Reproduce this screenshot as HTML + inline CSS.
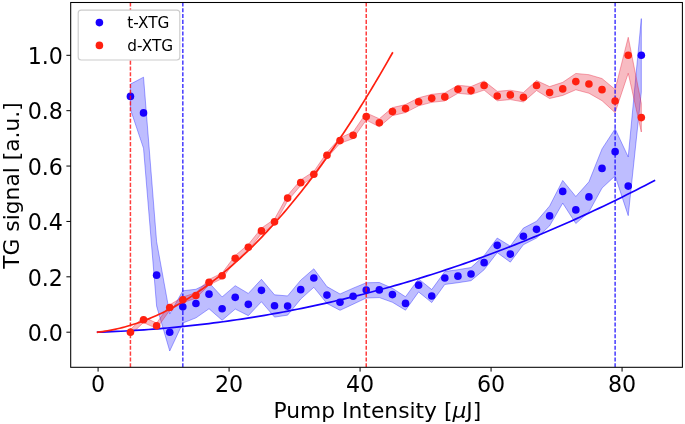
<!DOCTYPE html>
<html lang="en"><head><meta charset="utf-8"><title>TG signal vs Pump Intensity</title>
<style>
html,body{margin:0;padding:0;background:#fff;}
body{width:685px;height:424px;overflow:hidden;}
svg{display:block;}
text{font-family:"DejaVu Sans","Liberation Sans",sans-serif;fill:#000;}
.tk{font-size:22.2px;}
.lb{font-size:21.8px;}
.lg{font-size:15.3px;}
</style></head><body>
<svg width="685" height="424" viewBox="0 0 685 424">
<rect width="685" height="424" fill="#fff"/>
<defs><clipPath id="ax"><rect x="70.7" y="2.5" width="611.6999999999999" height="364.8"/></clipPath></defs>
<g clip-path="url(#ax)">
<path d="M130.43,84.10 L143.53,77.18 L156.62,241.65 L169.72,313.92 L182.82,290.78 L195.93,289.28 L209.02,282.75 L222.12,296.92 L235.22,285.68 L248.32,293.43 L261.43,279.31 L274.52,294.82 L287.62,295.93 L300.72,280.14 L313.82,268.79 L326.93,286.62 L340.02,293.99 L353.12,288.17 L366.23,282.77 L379.32,282.47 L392.43,288.31 L405.52,296.76 L418.62,278.90 L431.73,289.56 L444.82,271.56 L457.93,269.70 L471.02,267.52 L484.12,255.64 L497.23,238.05 L510.32,246.08 L523.42,228.09 L536.52,221.30 L549.62,206.02 L562.73,180.46 L575.82,196.52 L588.92,181.84 L602.02,148.89 L615.12,128.82 L628.22,156.92 L641.32,18.58 L641.32,92.13 L628.22,215.63 L615.12,175.89 L602.02,188.07 L588.92,212.03 L575.82,223.52 L562.73,203.16 L549.62,225.87 L536.52,238.05 L523.42,244.70 L510.32,262.14 L497.23,252.65 L484.12,269.76 L471.02,280.70 L457.93,282.72 L444.82,284.43 L431.73,302.57 L418.62,291.94 L405.52,310.21 L392.43,302.29 L379.32,297.59 L366.23,298.00 L353.12,304.23 L340.02,310.32 L326.93,303.46 L313.82,287.34 L300.72,299.06 L287.62,315.14 L274.52,317.11 L261.43,301.74 L248.32,315.64 L235.22,309.08 L222.12,320.29 L209.02,308.77 L195.93,317.86 L182.82,323.06 L169.72,351.03 L156.62,306.17 L143.53,148.34 L130.43,109.30Z" fill="#0400ff" fill-opacity="0.26" stroke="#0400ff" stroke-opacity="0.34" stroke-width="1" stroke-linejoin="miter"/>
<path d="M130.43,329.43 L143.53,316.97 L156.62,323.06 L169.72,304.79 L182.82,297.03 L195.93,292.74 L209.02,279.45 L222.12,273.05 L235.22,255.50 L248.32,244.51 L261.43,228.14 L274.52,219.09 L287.62,195.33 L300.72,179.91 L313.82,171.49 L326.93,152.49 L340.02,137.82 L353.12,132.00 L366.23,112.90 L379.32,118.74 L392.43,107.61 L405.52,104.56 L418.62,97.80 L431.73,94.32 L444.82,92.88 L457.93,85.26 L471.02,86.56 L484.12,80.97 L497.23,91.35 L510.32,90.19 L523.42,92.52 L536.52,80.55 L549.62,86.59 L562.73,82.33 L575.82,73.44 L588.92,74.68 L602.02,78.56 L615.12,89.41 L628.22,37.30 L641.32,103.20 L641.32,132.00 L628.22,73.30 L615.12,112.67 L602.02,100.71 L588.92,93.24 L575.82,89.77 L562.73,95.45 L549.62,98.50 L536.52,90.52 L523.42,101.93 L510.32,99.60 L497.23,100.77 L484.12,90.11 L471.02,94.59 L457.93,93.29 L444.82,100.91 L431.73,102.35 L418.62,105.83 L405.52,112.59 L392.43,115.64 L379.32,126.77 L366.23,120.09 L353.12,138.65 L340.02,143.35 L326.93,158.03 L313.82,177.03 L300.72,185.44 L287.62,200.87 L274.52,224.62 L261.43,233.68 L248.32,250.04 L235.22,261.04 L222.12,278.59 L209.02,284.99 L195.93,298.28 L182.82,302.57 L169.72,310.32 L156.62,328.60 L143.53,322.51 L130.43,334.97Z" fill="#e6142e" fill-opacity="0.29" stroke="#e6142e" stroke-opacity="0.36" stroke-width="1" stroke-linejoin="miter"/>
<circle cx="130.43" cy="96.42" r="3.8" fill="#1800ff"/>
<circle cx="143.53" cy="112.90" r="3.8" fill="#1800ff"/>
<circle cx="156.62" cy="275.16" r="3.8" fill="#1800ff"/>
<circle cx="169.72" cy="332.20" r="3.8" fill="#1800ff"/>
<circle cx="182.82" cy="306.86" r="3.8" fill="#1800ff"/>
<circle cx="195.93" cy="303.49" r="3.8" fill="#1800ff"/>
<circle cx="209.02" cy="294.15" r="3.8" fill="#1800ff"/>
<circle cx="222.12" cy="308.77" r="3.8" fill="#1800ff"/>
<circle cx="235.22" cy="297.37" r="3.8" fill="#1800ff"/>
<circle cx="248.32" cy="304.37" r="3.8" fill="#1800ff"/>
<circle cx="261.43" cy="290.33" r="3.8" fill="#1800ff"/>
<circle cx="274.52" cy="305.70" r="3.8" fill="#1800ff"/>
<circle cx="287.62" cy="306.09" r="3.8" fill="#1800ff"/>
<circle cx="300.72" cy="289.67" r="3.8" fill="#1800ff"/>
<circle cx="313.82" cy="277.96" r="3.8" fill="#1800ff"/>
<circle cx="326.93" cy="295.10" r="3.8" fill="#1800ff"/>
<circle cx="340.02" cy="302.29" r="3.8" fill="#1800ff"/>
<circle cx="353.12" cy="296.20" r="3.8" fill="#1800ff"/>
<circle cx="366.23" cy="290.03" r="3.8" fill="#1800ff"/>
<circle cx="379.32" cy="289.92" r="3.8" fill="#1800ff"/>
<circle cx="392.43" cy="294.62" r="3.8" fill="#1800ff"/>
<circle cx="405.52" cy="303.40" r="3.8" fill="#1800ff"/>
<circle cx="418.62" cy="285.13" r="3.8" fill="#1800ff"/>
<circle cx="431.73" cy="296.06" r="3.8" fill="#1800ff"/>
<circle cx="444.82" cy="278.07" r="3.8" fill="#1800ff"/>
<circle cx="457.93" cy="276.13" r="3.8" fill="#1800ff"/>
<circle cx="471.02" cy="274.05" r="3.8" fill="#1800ff"/>
<circle cx="484.12" cy="262.64" r="3.8" fill="#1800ff"/>
<circle cx="497.23" cy="245.34" r="3.8" fill="#1800ff"/>
<circle cx="510.32" cy="254.11" r="3.8" fill="#1800ff"/>
<circle cx="523.42" cy="236.25" r="3.8" fill="#1800ff"/>
<circle cx="536.52" cy="229.36" r="3.8" fill="#1800ff"/>
<circle cx="549.62" cy="215.90" r="3.8" fill="#1800ff"/>
<circle cx="562.73" cy="191.40" r="3.8" fill="#1800ff"/>
<circle cx="575.82" cy="209.92" r="3.8" fill="#1800ff"/>
<circle cx="588.92" cy="196.88" r="3.8" fill="#1800ff"/>
<circle cx="602.02" cy="168.41" r="3.8" fill="#1800ff"/>
<circle cx="615.12" cy="151.66" r="3.8" fill="#1800ff"/>
<circle cx="628.22" cy="186.11" r="3.8" fill="#1800ff"/>
<circle cx="641.32" cy="55.30" r="3.8" fill="#1800ff"/>
<line x1="130.43" x2="130.43" y1="367.3" y2="2.5" stroke="#ff0808" stroke-width="1.5" stroke-dasharray="4.06 1.76" stroke-opacity="0.78"/>
<line x1="366.23" x2="366.23" y1="367.3" y2="2.5" stroke="#ff0808" stroke-width="1.5" stroke-dasharray="4.06 1.76" stroke-opacity="0.78"/>
<line x1="182.82" x2="182.82" y1="367.3" y2="2.5" stroke="#1000ff" stroke-width="1.5" stroke-dasharray="4.06 1.76" stroke-opacity="0.78"/>
<line x1="615.12" x2="615.12" y1="367.3" y2="2.5" stroke="#1000ff" stroke-width="1.5" stroke-dasharray="4.06 1.76" stroke-opacity="0.78"/>
<path d="M97.67,332.20 L102.31,332.04 L106.95,331.87 L111.59,331.68 L116.23,331.47 L120.87,331.24 L125.51,331.00 L130.15,330.73 L134.79,330.45 L139.43,330.16 L144.07,329.84 L148.71,329.51 L153.35,329.16 L157.99,328.79 L162.63,328.40 L167.27,327.99 L171.91,327.57 L176.55,327.13 L181.19,326.67 L185.83,326.19 L190.47,325.70 L195.11,325.19 L199.75,324.66 L204.39,324.11 L209.02,323.54 L213.66,322.95 L218.30,322.35 L222.94,321.73 L227.58,321.09 L232.22,320.43 L236.86,319.75 L241.50,319.06 L246.14,318.34 L250.78,317.61 L255.42,316.86 L260.06,316.09 L264.70,315.30 L269.34,314.50 L273.98,313.67 L278.62,312.83 L283.26,311.97 L287.90,311.09 L292.54,310.19 L297.18,309.27 L301.82,308.34 L306.46,307.38 L311.10,306.41 L315.74,305.42 L320.38,304.41 L325.01,303.38 L329.65,302.33 L334.29,301.26 L338.93,300.17 L343.57,299.07 L348.21,297.94 L352.85,296.80 L357.49,295.64 L362.13,294.46 L366.77,293.26 L371.41,292.04 L376.05,290.80 L380.69,289.54 L385.33,288.27 L389.97,286.97 L394.61,285.65 L399.25,284.32 L403.89,282.97 L408.53,281.59 L413.17,280.20 L417.81,278.79 L422.45,277.36 L427.09,275.91 L431.73,274.44 L436.36,272.95 L441.00,271.44 L445.64,269.91 L450.28,268.37 L454.92,266.80 L459.56,265.21 L464.20,263.61 L468.84,261.98 L473.48,260.34 L478.12,258.67 L482.76,256.98 L487.40,255.28 L492.04,253.56 L496.68,251.81 L501.32,250.05 L505.96,248.26 L510.60,246.46 L515.24,244.64 L519.88,242.79 L524.52,240.93 L529.16,239.05 L533.80,237.14 L538.44,235.22 L543.07,233.28 L547.71,231.31 L552.35,229.33 L556.99,227.32 L561.63,225.30 L566.27,223.26 L570.91,221.19 L575.55,219.11 L580.19,217.00 L584.83,214.88 L589.47,212.73 L594.11,210.57 L598.75,208.38 L603.39,206.17 L608.03,203.95 L612.67,201.70 L617.31,199.43 L621.95,197.14 L626.59,194.83 L631.23,192.51 L635.87,190.16 L640.51,187.78 L645.15,185.39 L649.79,182.98 L654.42,180.55" fill="none" stroke="#1800ff" stroke-width="1.7" stroke-linecap="square"/>
<path d="M97.67,332.20 L100.13,331.89 L102.59,331.55 L105.04,331.18 L107.50,330.77 L109.96,330.32 L112.41,329.84 L114.87,329.33 L117.32,328.79 L119.78,328.21 L122.24,327.60 L124.69,326.95 L127.15,326.27 L129.61,325.55 L132.06,324.80 L134.52,324.02 L136.97,323.20 L139.43,322.35 L141.89,321.47 L144.34,320.55 L146.80,319.60 L149.26,318.61 L151.71,317.59 L154.17,316.54 L156.62,315.45 L159.08,314.33 L161.54,313.17 L163.99,311.98 L166.45,310.75 L168.91,309.50 L171.36,308.20 L173.82,306.88 L176.27,305.52 L178.73,304.13 L181.19,302.70 L183.64,301.24 L186.10,299.74 L188.56,298.21 L191.01,296.65 L193.47,295.05 L195.93,293.42 L198.38,291.75 L200.84,290.05 L203.29,288.32 L205.75,286.55 L208.21,284.75 L210.66,282.92 L213.12,281.05 L215.57,279.15 L218.03,277.21 L220.49,275.24 L222.94,273.23 L225.40,271.20 L227.86,269.12 L230.31,267.02 L232.77,264.88 L235.22,262.70 L237.68,260.49 L240.14,258.25 L242.59,255.97 L245.05,253.66 L247.51,251.32 L249.96,248.94 L252.42,246.53 L254.88,244.08 L257.33,241.60 L259.79,239.09 L262.24,236.54 L264.70,233.96 L267.16,231.35 L269.61,228.70 L272.07,226.01 L274.52,223.30 L276.98,220.54 L279.44,217.76 L281.89,214.94 L284.35,212.09 L286.81,209.20 L289.26,206.28 L291.72,203.32 L294.18,200.33 L296.63,197.31 L299.09,194.26 L301.54,191.16 L304.00,188.04 L306.46,184.88 L308.91,181.69 L311.37,178.46 L313.82,175.20 L316.28,171.91 L318.74,168.58 L321.19,165.22 L323.65,161.82 L326.11,158.39 L328.56,154.93 L331.02,151.43 L333.47,147.90 L335.93,144.33 L338.39,140.73 L340.84,137.10 L343.30,133.43 L345.76,129.73 L348.21,125.99 L350.67,122.22 L353.12,118.42 L355.58,114.58 L358.04,110.71 L360.49,106.80 L362.95,102.87 L365.41,98.89 L367.86,94.89 L370.32,90.84 L372.77,86.77 L375.23,82.66 L377.69,78.52 L380.14,74.34 L382.60,70.13 L385.06,65.89 L387.51,61.61 L389.97,57.29 L392.43,52.95" fill="none" stroke="#ff2010" stroke-width="1.7" stroke-linecap="square"/>
<circle cx="130.43" cy="332.20" r="3.8" fill="#ff2010"/>
<circle cx="143.53" cy="319.74" r="3.8" fill="#ff2010"/>
<circle cx="156.62" cy="325.83" r="3.8" fill="#ff2010"/>
<circle cx="169.72" cy="307.56" r="3.8" fill="#ff2010"/>
<circle cx="182.82" cy="299.80" r="3.8" fill="#ff2010"/>
<circle cx="195.93" cy="295.51" r="3.8" fill="#ff2010"/>
<circle cx="209.02" cy="282.22" r="3.8" fill="#ff2010"/>
<circle cx="222.12" cy="275.82" r="3.8" fill="#ff2010"/>
<circle cx="235.22" cy="258.27" r="3.8" fill="#ff2010"/>
<circle cx="248.32" cy="247.27" r="3.8" fill="#ff2010"/>
<circle cx="261.43" cy="230.91" r="3.8" fill="#ff2010"/>
<circle cx="274.52" cy="221.86" r="3.8" fill="#ff2010"/>
<circle cx="287.62" cy="198.10" r="3.8" fill="#ff2010"/>
<circle cx="300.72" cy="182.67" r="3.8" fill="#ff2010"/>
<circle cx="313.82" cy="174.26" r="3.8" fill="#ff2010"/>
<circle cx="326.93" cy="155.26" r="3.8" fill="#ff2010"/>
<circle cx="340.02" cy="140.59" r="3.8" fill="#ff2010"/>
<circle cx="353.12" cy="135.32" r="3.8" fill="#ff2010"/>
<circle cx="366.23" cy="116.49" r="3.8" fill="#ff2010"/>
<circle cx="379.32" cy="122.75" r="3.8" fill="#ff2010"/>
<circle cx="392.43" cy="111.62" r="3.8" fill="#ff2010"/>
<circle cx="405.52" cy="108.58" r="3.8" fill="#ff2010"/>
<circle cx="418.62" cy="101.82" r="3.8" fill="#ff2010"/>
<circle cx="431.73" cy="98.33" r="3.8" fill="#ff2010"/>
<circle cx="444.82" cy="96.89" r="3.8" fill="#ff2010"/>
<circle cx="457.93" cy="89.28" r="3.8" fill="#ff2010"/>
<circle cx="471.02" cy="90.58" r="3.8" fill="#ff2010"/>
<circle cx="484.12" cy="85.54" r="3.8" fill="#ff2010"/>
<circle cx="497.23" cy="96.06" r="3.8" fill="#ff2010"/>
<circle cx="510.32" cy="94.90" r="3.8" fill="#ff2010"/>
<circle cx="523.42" cy="97.22" r="3.8" fill="#ff2010"/>
<circle cx="536.52" cy="85.54" r="3.8" fill="#ff2010"/>
<circle cx="549.62" cy="92.54" r="3.8" fill="#ff2010"/>
<circle cx="562.73" cy="88.89" r="3.8" fill="#ff2010"/>
<circle cx="575.82" cy="81.61" r="3.8" fill="#ff2010"/>
<circle cx="588.92" cy="83.96" r="3.8" fill="#ff2010"/>
<circle cx="602.02" cy="89.64" r="3.8" fill="#ff2010"/>
<circle cx="615.12" cy="101.04" r="3.8" fill="#ff2010"/>
<circle cx="628.22" cy="55.30" r="3.8" fill="#ff2010"/>
<circle cx="641.32" cy="117.60" r="3.8" fill="#ff2010"/>
</g>
<rect x="70.7" y="2.5" width="611.6999999999999" height="364.8" fill="none" stroke="#000" stroke-width="1.05"/>
<line x1="98.08" x2="98.08" y1="367.3" y2="371.6" stroke="#000" stroke-width="1"/>
<text x="98.08" y="392" text-anchor="middle" class="tk">0</text>
<line x1="229.08" x2="229.08" y1="367.3" y2="371.6" stroke="#000" stroke-width="1"/>
<text x="229.08" y="392" text-anchor="middle" class="tk">20</text>
<line x1="360.07" x2="360.07" y1="367.3" y2="371.6" stroke="#000" stroke-width="1"/>
<text x="360.07" y="392" text-anchor="middle" class="tk">40</text>
<line x1="491.07" x2="491.07" y1="367.3" y2="371.6" stroke="#000" stroke-width="1"/>
<text x="491.07" y="392" text-anchor="middle" class="tk">60</text>
<line x1="622.07" x2="622.07" y1="367.3" y2="371.6" stroke="#000" stroke-width="1"/>
<text x="622.07" y="392" text-anchor="middle" class="tk">80</text>
<line x1="70.7" x2="66.4" y1="332.20" y2="332.20" stroke="#000" stroke-width="1"/>
<text x="63" y="341.00" text-anchor="end" class="tk">0.0</text>
<line x1="70.7" x2="66.4" y1="276.82" y2="276.82" stroke="#000" stroke-width="1"/>
<text x="63" y="285.62" text-anchor="end" class="tk">0.2</text>
<line x1="70.7" x2="66.4" y1="221.44" y2="221.44" stroke="#000" stroke-width="1"/>
<text x="63" y="230.24" text-anchor="end" class="tk">0.4</text>
<line x1="70.7" x2="66.4" y1="166.06" y2="166.06" stroke="#000" stroke-width="1"/>
<text x="63" y="174.86" text-anchor="end" class="tk">0.6</text>
<line x1="70.7" x2="66.4" y1="110.68" y2="110.68" stroke="#000" stroke-width="1"/>
<text x="63" y="119.48" text-anchor="end" class="tk">0.8</text>
<line x1="70.7" x2="66.4" y1="55.30" y2="55.30" stroke="#000" stroke-width="1"/>
<text x="63" y="64.10" text-anchor="end" class="tk">1.0</text>
<text x="377.4" y="417.5" text-anchor="middle" class="lb">Pump Intensity [<tspan font-style="italic">μ</tspan>J]</text>
<text transform="translate(18.5,185.5) rotate(-90)" text-anchor="middle" class="lb">TG signal [a.u.]</text>
<rect x="78.2" y="10.1" width="101.6" height="49.9" rx="3" ry="3" fill="#fff" stroke="#cccccc" stroke-width="1.15"/>
<circle cx="99.4" cy="22.6" r="3.8" fill="#1800ff"/>
<circle cx="99.4" cy="45.4" r="3.8" fill="#ff2010"/>
<text x="127.3" y="28" class="lg">t-XTG</text>
<text x="127.3" y="51" class="lg">d-XTG</text>
</svg>
</body></html>
